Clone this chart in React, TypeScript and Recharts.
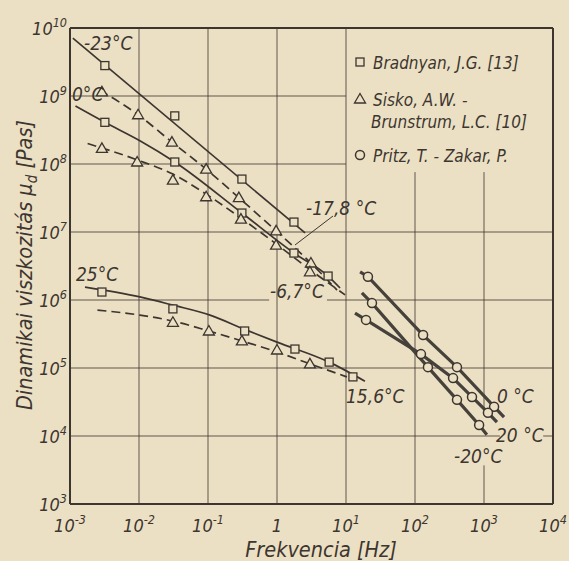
import React from 'react';
import { ComposedChart, Line, Scatter, XAxis, YAxis, ReferenceLine, Legend } from 'recharts';

const W = 569;
const H = 561;
const PAPER = '#ebe0c3';
const INK = '#3d3530';
const FONT = "'DejaVu Sans Condensed', 'DejaVu Sans', sans-serif";

// tengelyek
const freqTicks = [1e-3, 1e-2, 1e-1, 1, 1e1, 1e2, 1e3, 1e4];
const viscTicks = [1e3, 1e4, 1e5, 1e6, 1e7, 1e8, 1e9, 1e10];

// Bradnyan, J.G. [13] - mért pontok és illesztett görbék
const brad23Line = [
  { f: 1.1e-3, mu: 7.1e9 },
  { f: 2.55, mu: 9.7e6 },
];
const brad23Pts = [
  { f: 3.2e-3, mu: 2.8e9 },
  { f: 0.033, mu: 5.1e8 },
  { f: 0.31, mu: 6.0e7 },
  { f: 1.76, mu: 1.4e7 },
];
const brad0Line = [
  { f: 1.2e-3, mu: 7.1e8 },
  { f: 3.2e-3, mu: 4.1e8 },
  { f: 0.0103, mu: 2.2e8 },
  { f: 0.033, mu: 1.07e8 },
  { f: 0.31, mu: 1.9e7 },
  { f: 1.76, mu: 4.9e6 },
  { f: 5.5, mu: 2.25e6 },
  { f: 8.2, mu: 1.5e6 },
];
const brad0Pts = [
  { f: 3.2e-3, mu: 4.1e8 },
  { f: 0.033, mu: 1.07e8 },
  { f: 0.31, mu: 1.9e7 },
  { f: 1.76, mu: 4.9e6 },
  { f: 5.5, mu: 2.25e6 },
];
const brad25Line = [
  { f: 1.65e-3, mu: 1.55e6 },
  { f: 0.0103, mu: 1.11e6 },
  { f: 0.031, mu: 8.4e5 },
  { f: 0.107, mu: 6.0e5 },
  { f: 0.34, mu: 3.7e5 },
  { f: 1.0, mu: 2.4e5 },
  { f: 5.7, mu: 1.22e5 },
  { f: 18.8, mu: 6.4e4 },
];
const brad25Pts = [
  { f: 2.9e-3, mu: 1.31e6 },
  { f: 0.031, mu: 7.4e5 },
  { f: 0.34, mu: 3.5e5 },
  { f: 1.82, mu: 1.9e5 },
  { f: 5.7, mu: 1.22e5 },
  { f: 12.6, mu: 7.4e4 },
];

// Sisko, A.W. - Brunstrum, L.C. [10]
const sisko178Line = [
  { f: 2.7e-3, mu: 1.22e9 },
  { f: 9.7e-3, mu: 5.3e8 },
  { f: 0.03, mu: 2.1e8 },
  { f: 0.094, mu: 8.4e7 },
  { f: 0.28, mu: 3.2e7 },
  { f: 0.97, mu: 1.04e7 },
  { f: 3.1, mu: 3.5e6 },
  { f: 7.4, mu: 1.4e6 },
];
const sisko178Pts = [
  { f: 2.9e-3, mu: 1.15e9 },
  { f: 9.7e-3, mu: 5.3e8 },
  { f: 0.03, mu: 2.1e8 },
  { f: 0.094, mu: 8.4e7 },
  { f: 0.28, mu: 3.2e7 },
  { f: 0.97, mu: 1.04e7 },
  { f: 3.1, mu: 3.5e6 },
];
const sisko67Line = [
  { f: 1.8e-3, mu: 2.0e8 },
  { f: 9.4e-3, mu: 1.15e8 },
  { f: 0.031, mu: 7.1e7 },
  { f: 0.094, mu: 3.6e7 },
  { f: 0.3, mu: 1.6e7 },
  { f: 0.97, mu: 6.7e6 },
  { f: 3.0, mu: 2.8e6 },
  { f: 9.7, mu: 1.19e6 },
];
const sisko67Pts = [
  { f: 2.9e-3, mu: 1.7e8 },
  { f: 9.4e-3, mu: 1.07e8 },
  { f: 0.031, mu: 5.8e7 },
  { f: 0.094, mu: 3.3e7 },
  { f: 0.3, mu: 1.55e7 },
  { f: 0.97, mu: 6.4e6 },
  { f: 3.0, mu: 2.6e6 },
];
const sisko156Line = [
  { f: 2.5e-3, mu: 7.1e5 },
  { f: 0.0103, mu: 6.0e5 },
  { f: 0.031, mu: 4.9e5 },
  { f: 0.103, mu: 3.5e5 },
  { f: 0.31, mu: 2.5e5 },
  { f: 1.0, mu: 1.72e5 },
  { f: 3.0, mu: 1.15e5 },
  { f: 10.3, mu: 7.4e4 },
];
const sisko156Pts = [
  { f: 0.031, mu: 4.7e5 },
  { f: 0.103, mu: 3.5e5 },
  { f: 0.31, mu: 2.5e5 },
  { f: 1.0, mu: 1.84e5 },
  { f: 3.0, mu: 1.15e5 },
];

// Pritz, T. - Zakar, P.
const pritz0Line = [
  { f: 16, mu: 2.6e6 },
  { f: 20.8, mu: 2.2e6 },
  { f: 131, mu: 3.05e5 },
  { f: 406, mu: 1.03e5 },
  { f: 1400, mu: 2.7e4 },
  { f: 1950, mu: 1.9e4 },
];
const pritz0Pts = [
  { f: 20.8, mu: 2.2e6 },
  { f: 131, mu: 3.05e5 },
  { f: 406, mu: 1.03e5 },
  { f: 1400, mu: 2.7e4 },
];
const pritz20Line = [
  { f: 13.5, mu: 6.4e5 },
  { f: 19.5, mu: 5.1e5 },
  { f: 122, mu: 1.6e5 },
  { f: 356, mu: 7.1e4 },
  { f: 670, mu: 3.75e4 },
  { f: 1140, mu: 2.2e4 },
  { f: 1540, mu: 1.6e4 },
];
const pritz20Pts = [
  { f: 19.5, mu: 5.1e5 },
  { f: 122, mu: 1.6e5 },
  { f: 356, mu: 7.1e4 },
  { f: 670, mu: 3.75e4 },
  { f: 1140, mu: 2.2e4 },
];
const pritzM20Line = [
  { f: 17, mu: 1.27e6 },
  { f: 23.8, mu: 9.0e5 },
  { f: 154, mu: 1.03e5 },
  { f: 406, mu: 3.4e4 },
  { f: 850, mu: 1.45e4 },
  { f: 1100, mu: 1.04e4 },
];
const pritzM20Pts = [
  { f: 23.8, mu: 9.0e5 },
  { f: 154, mu: 1.03e5 },
  { f: 406, mu: 3.4e4 },
  { f: 850, mu: 1.45e4 },
];

// rácsvonalak (a feliratoknál megszakítva)
const gridV = [
  { x: 1e-2, from: 1e3, to: 1e10 },
  { x: 1e-1, from: 1e3, to: 1e10 },
  { x: 1, from: 1e3, to: 1e10 },
  { x: 1e1, from: 1e3, to: 1e10 },
  { x: 1e2, from: 1e3, to: 7.6e7 },
  { x: 1e3, from: 2.4e4, to: 7.6e7 },
  { x: 1e3, from: 1e3, to: 3.7e3 },
];
const gridH = [
  { y: 1e9, from: 1e-3, to: 1e1 },
  { y: 1e8, from: 1e-3, to: 1e1 },
  { y: 1e7, from: 1e-3, to: 1e4 },
  { y: 1e6, from: 1e-3, to: 0.77 },
  { y: 1e6, from: 5.3, to: 1e4 },
  { y: 1e5, from: 1e-3, to: 1e4 },
  { y: 1e4, from: 1e-3, to: 1700 },
  { y: 1e4, from: 7200, to: 1e4 },
];

const legendItems = [
  { shape: 'square', lines: ['Bradnyan, J.G. [13]'] },
  { shape: 'triangle', lines: ['Sisko, A.W. -', 'Brunstrum, L.C. [10]'] },
  { shape: 'circle', lines: ['Pritz, T. - Zakar, P.'] },
];

const curveLabels = [
  { text: '-23°C', x: 84, y: 50 },
  { text: '0°C', x: 72, y: 101 },
  { text: '25°C', x: 76, y: 281 },
  { text: '-17,8 °C', x: 306, y: 215 },
  { text: '-6,7°C', x: 270, y: 298 },
  { text: '15,6°C', x: 346, y: 403 },
  { text: '0 °C', x: 497, y: 403 },
  { text: '20 °C', x: 496, y: 442 },
  { text: '-20°C', x: 454, y: 463 },
];

const Square = (p: any) => (
  <rect x={p.cx - 4} y={p.cy - 4} width={8} height={8} fill={PAPER} stroke={INK} strokeWidth={1.3} />
);
const Tri = (p: any) => (
  <path
    d={`M${p.cx},${p.cy - 5.5}L${p.cx + 5.5},${p.cy + 4}L${p.cx - 5.5},${p.cy + 4}Z`}
    fill={PAPER}
    stroke={INK}
    strokeWidth={1.3}
  />
);
const Ring = (p: any) => (
  <circle cx={p.cx} cy={p.cy} r={4.5} fill={PAPER} stroke={INK} strokeWidth={1.5} />
);

const FreqTick = ({ x, payload }: any) => {
  const e = Math.round(Math.log10(payload.value));
  return (
    <text x={x} y={532} textAnchor="middle" fill={INK} fontFamily={FONT} fontStyle="italic" fontSize={18}>
      {e === 0 ? '1' : (
        <>
          10<tspan dy={-8} fontSize={12.5}>{e}</tspan>
        </>
      )}
    </text>
  );
};

const ViscTick = ({ y, payload }: any) => {
  const e = Math.round(Math.log10(payload.value));
  return (
    <text x={67} y={y + 7} textAnchor="end" fill={INK} fontFamily={FONT} fontStyle="italic" fontSize={18}>
      10<tspan dy={-8} fontSize={12.5}>{e}</tspan>
    </text>
  );
};

const LegendBox = () => (
  <svg width={200} height={130}>
    {legendItems.map((item, i) => {
      const top = [17, 54, 110][i];
      const mx = 11;
      return (
        <g key={i}>
          {item.shape === 'square' && <Square cx={mx} cy={top} />}
          {item.shape === 'triangle' && <Tri cx={mx} cy={top} />}
          {item.shape === 'circle' && <Ring cx={mx} cy={top} />}
          {item.lines.map((t, j) => (
            <text
              key={j}
              x={j === 0 ? 24 : 22}
              y={top + 7 + j * 22}
              fill={INK}
              fontFamily={FONT}
              fontStyle="italic"
              fontSize={17}
            >
              {t}
            </text>
          ))}
        </g>
      );
    })}
  </svg>
);

const thin = { stroke: INK, strokeWidth: 1.7, dot: false, isAnimationActive: false, activeDot: false } as const;
const thick = { stroke: '#47413c', strokeWidth: 3.2, dot: false, isAnimationActive: false, activeDot: false } as const;
const DASH = '9 5';

export default function App() {
  return (
    <div style={{ position: 'absolute', left: 0, top: 0, width: W, height: H, background: PAPER }}>
      <ComposedChart width={W} height={H} margin={{ top: 28, right: 16, bottom: 17, left: 0 }}>
        <XAxis
          dataKey="f"
          type="number"
          scale="log"
          domain={[1e-3, 1e4]}
          ticks={freqTicks}
          allowDataOverflow
          height={40}
          tickLine={false}
          axisLine={{ stroke: INK, strokeWidth: 2 }}
          tick={<FreqTick />}
          interval={0}
        />
        <YAxis
          dataKey="mu"
          type="number"
          scale="log"
          domain={[1e3, 1e10]}
          ticks={viscTicks}
          allowDataOverflow
          width={70}
          tickLine={false}
          axisLine={{ stroke: INK, strokeWidth: 2 }}
          tick={<ViscTick />}
          interval={0}
        />
        {gridV.map((g, i) => (
          <ReferenceLine
            key={`v${i}`}
            segment={[{ x: g.x, y: g.from }, { x: g.x, y: g.to }]}
            stroke={INK}
            strokeWidth={1}
            strokeOpacity={0.8}
          />
        ))}
        {gridH.map((g, i) => (
          <ReferenceLine
            key={`h${i}`}
            segment={[{ x: g.from, y: g.y }, { x: g.to, y: g.y }]}
            stroke={INK}
            strokeWidth={1}
            strokeOpacity={0.8}
          />
        ))}
        <ReferenceLine y={1e10} stroke={INK} strokeWidth={2} />
        <ReferenceLine x={1e4} stroke={INK} strokeWidth={2} />

        <Line data={brad23Line} dataKey="mu" type="linear" {...thin} />
        <Line data={brad0Line} dataKey="mu" type="monotone" {...thin} />
        <Line data={brad25Line} dataKey="mu" type="monotone" {...thin} />
        <Line data={sisko178Line} dataKey="mu" type="monotone" strokeDasharray={DASH} {...thin} />
        <Line data={sisko67Line} dataKey="mu" type="monotone" strokeDasharray={DASH} {...thin} />
        <Line data={sisko156Line} dataKey="mu" type="monotone" strokeDasharray={DASH} {...thin} />
        <Line data={pritz0Line} dataKey="mu" type="linear" {...thick} />
        <Line data={pritz20Line} dataKey="mu" type="linear" {...thick} />
        <Line data={pritzM20Line} dataKey="mu" type="linear" {...thick} />

        <Scatter data={brad23Pts} dataKey="mu" shape={Square} isAnimationActive={false} />
        <Scatter data={brad0Pts} dataKey="mu" shape={Square} isAnimationActive={false} />
        <Scatter data={brad25Pts} dataKey="mu" shape={Square} isAnimationActive={false} />
        <Scatter data={sisko178Pts} dataKey="mu" shape={Tri} isAnimationActive={false} />
        <Scatter data={sisko67Pts} dataKey="mu" shape={Tri} isAnimationActive={false} />
        <Scatter data={sisko156Pts} dataKey="mu" shape={Tri} isAnimationActive={false} />
        <Scatter data={pritz0Pts} dataKey="mu" shape={Ring} isAnimationActive={false} />
        <Scatter data={pritz20Pts} dataKey="mu" shape={Ring} isAnimationActive={false} />
        <Scatter data={pritzM20Pts} dataKey="mu" shape={Ring} isAnimationActive={false} />

        <Legend
          layout="vertical"
          align="center"
          verticalAlign="middle"
          content={() => <LegendBox />}
          wrapperStyle={{ position: 'absolute', left: 349, top: 45, width: 200, height: 130 }}
        />
      </ComposedChart>

      <svg
        width={W}
        height={H}
        style={{ position: 'absolute', left: 0, top: 0, pointerEvents: 'none' }}
        fontFamily={FONT}
        fontStyle="italic"
        fill={INK}
      >
        {curveLabels.map((l, i) => (
          <text key={i} x={l.x} y={l.y} fontSize={19}>
            {l.text}
          </text>
        ))}
        {/* -17,8 °C mutatóvonal */}
        <line x1={295} y1={245} x2={333} y2={216} stroke={INK} strokeWidth={1} />
        <text x={321} y={557} textAnchor="middle" fontSize={21.5}>
          Frekvencia [Hz]
        </text>
        <text x={32} y={265} textAnchor="middle" fontSize={21.5} transform="rotate(-90 32 265)">
          Dinamikai viszkozitás μ<tspan dy={5} fontSize={15}>d</tspan>
          <tspan dy={-5}> [Pas]</tspan>
        </text>
      </svg>
    </div>
  );
}
